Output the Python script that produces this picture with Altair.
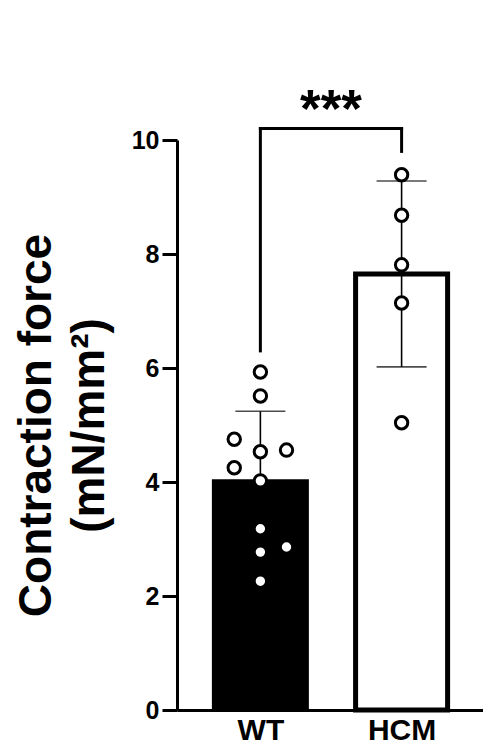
import altair as alt
import pandas as pd

groups = ["WT", "HCM"]
group_pos = [1, 2]
bar_means = [4.05, 7.65]
bar_sds = [1.19, 1.63]

wt_values = [5.93, 5.51, 4.75, 4.53, 4.56, 4.25, 4.02, 3.18, 2.86, 2.77, 2.26]
wt_jitter = [0, 0, -1, 0, 1, -1, 0, 0, 1, 0, 0]
hcm_values = [9.39, 8.68, 7.81, 7.14, 5.04]
hcm_jitter = [0, 0, 0, 0, 0]

bracket_top = 10.2
bracket_ends = [6.3, 9.8]
sig_label = "***"

y_ticks = [0, 2, 4, 6, 8, 10]
y_title = ["Contraction force", "(mN/mm²)"]

FONT = "Liberation Sans"
JITTER = 0.185

summary = pd.DataFrame({
    "group": groups,
    "pos": group_pos,
    "mean": bar_means,
    "sd": bar_sds,
})
summary["lo"] = summary["mean"] - summary["sd"]
summary["hi"] = summary["mean"] + summary["sd"]

pts = pd.DataFrame({
    "group": ["WT"] * len(wt_values) + ["HCM"] * len(hcm_values),
    "value": wt_values + hcm_values,
    "jit": wt_jitter + hcm_jitter,
})
pts["pos"] = pts["group"].map(dict(zip(groups, group_pos))) + pts["jit"] * JITTER

legs = pd.DataFrame({"pos": group_pos, "end": bracket_ends, "top": [bracket_top] * 2})
bar_h = pd.DataFrame({"x1": [group_pos[0]], "x2": [group_pos[1]], "y": [bracket_top],
                      "mid": [sum(group_pos) / 2], "label": [sig_label]})

label_expr = " : ".join(
    [f"datum.value == {p} ? '{g}'" for p, g in zip(group_pos[:-1], groups[:-1])]
    + [f"'{groups[-1]}'"]
)

xscale = alt.Scale(domain=[0.445, 2.541], nice=False, zero=False)
yscale = alt.Scale(domain=[0, 10], nice=False)

x_enc = alt.X(
    "pos:Q", scale=xscale,
    axis=alt.Axis(values=group_pos, labelExpr=label_expr, title=None, ticks=False,
                  grid=False, domainWidth=3, domainColor="black",
                  labelFontSize=30, labelFontWeight="bold", labelColor="black",
                  labelPadding=5, labelFont=FONT),
)
y_enc = alt.Y(
    "mean:Q", scale=yscale,
    axis=alt.Axis(values=y_ticks, format="d", title=y_title, grid=False, domainWidth=3,
                  domainColor="black", tickColor="black", tickWidth=3, tickSize=15,
                  labelFontSize=25, labelFontWeight="bold", labelColor="black",
                  labelPadding=3, labelFont=FONT, titleFont=FONT,
                  titleFontSize=46, titleFontWeight="bold", titleColor="black",
                  titleLineHeight=53, titleX=-117, titleBaseline="bottom"),
)

base = alt.Chart(summary)

bar_wt = base.transform_filter(alt.datum.group == groups[0]).mark_bar(
    size=97, color="black").encode(x=x_enc, y=y_enc)
bar_hcm = base.transform_filter(alt.datum.group == groups[1]).mark_bar(
    size=92, fill="white", stroke="black", strokeWidth=5).encode(x=x_enc, y=y_enc)

err = base.mark_rule(color="black", strokeWidth=1.6).encode(
    x="pos:Q", y="lo:Q", y2="hi:Q")
cap_hi = base.mark_tick(orient="horizontal", size=50, thickness=1.6, color="black").encode(
    x="pos:Q", y="hi:Q")
cap_lo = base.mark_tick(orient="horizontal", size=50, thickness=1.6, color="black").encode(
    x="pos:Q", y="lo:Q")

points = alt.Chart(pts).mark_point(
    shape="circle", size=154, filled=False, fill="white", fillOpacity=1,
    stroke="black", strokeWidth=3, opacity=1).encode(x="pos:Q", y="value:Q")

leg_rules = alt.Chart(legs).mark_rule(color="black", strokeWidth=3, strokeCap="square").encode(
    x="pos:Q", y="end:Q", y2="top:Q")
top_rule = alt.Chart(bar_h).mark_rule(color="black", strokeWidth=3, strokeCap="square").encode(
    x="x1:Q", x2="x2:Q", y="y:Q")
sig = alt.Chart(bar_h).mark_text(
    font=FONT, fontSize=53, fontWeight="bold", color="black",
    baseline="alphabetic", align="center", dy=-2).encode(
    x="mid:Q", y="y:Q", text="label:N")

chart = (
    alt.layer(bar_wt, bar_hcm, err, cap_hi, cap_lo, points, leg_rules, top_rule, sig)
    .properties(
        width=306, height=570,
        autosize=alt.AutoSizeParams(type="none"),
        padding={"top": 132, "left": 169, "right": 0, "bottom": 38},
    )
    .configure(font=FONT)
    .configure_view(strokeWidth=0)
    .configure_axis(grid=False)
)

chart.save("out.html", embed_options={"renderer": "svg", "actions": False})
